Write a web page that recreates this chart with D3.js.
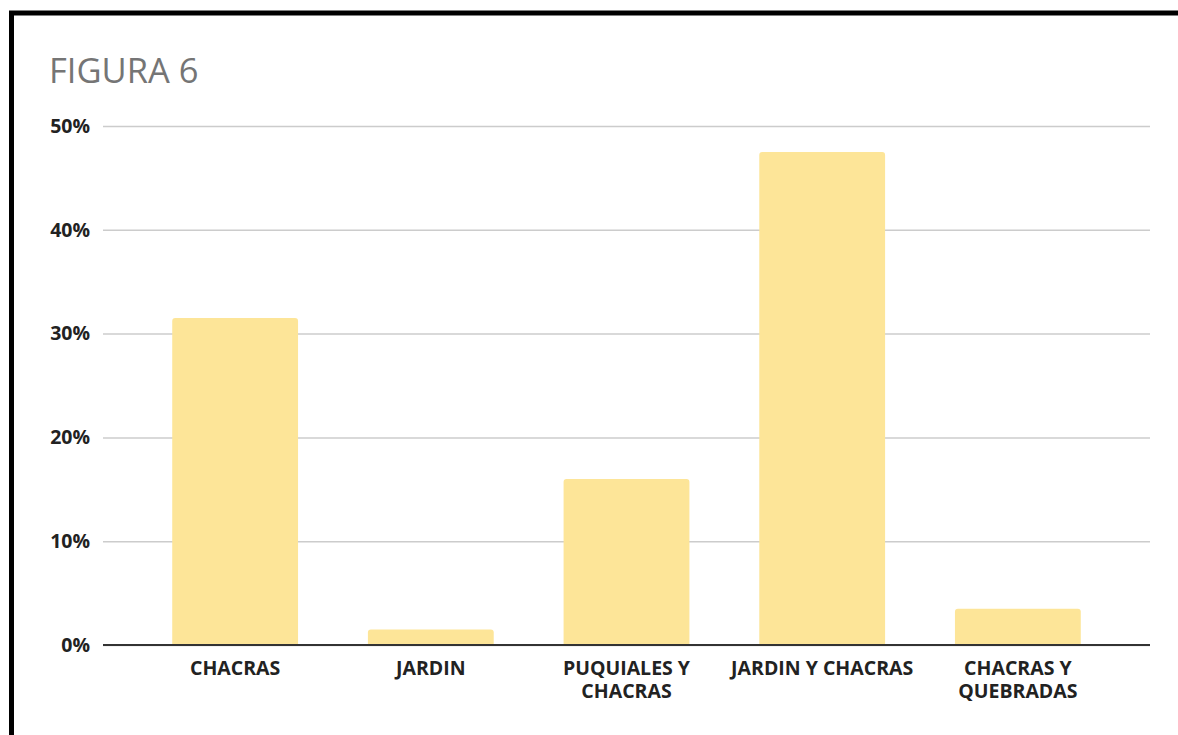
<!DOCTYPE html>
<html><head><meta charset="utf-8">
<script src="https://cdn.jsdelivr.net/npm/d3@7"></script>
<style>html,body{margin:0;padding:0;background:#fff;}svg{display:block;}</style>
</head><body>
<svg id="chart" width="1178" height="735"></svg>
<script>
const categories = ["CHACRAS", "JARDIN", "PUQUIALES Y\nCHACRAS", "JARDIN Y CHACRAS", "CHACRAS Y\nQUEBRADAS"];
const values = [31.5, 1.5, 16.0, 47.5, 3.5];
const yTicks = [0, 10, 20, 30, 40, 50];
const title = "FIGURA 6";

const svg = d3.select("#chart");
const font = "'Open Sans', sans-serif";

svg.append("rect").attr("x", 11.5).attr("y", 13).attr("width", 1200).attr("height", 800)
  .attr("fill", "#fff").attr("stroke", "#000").attr("stroke-width", 5);

svg.append("text").attr("x", 49).attr("y", 83).text(title)
  .attr("font-family", font).attr("font-size", 34.5).attr("fill", "#757575");

const y = d3.scaleLinear().domain([0, 50]).range([645, 126]);
const x = d3.scaleBand().domain(categories).range([137, 1116]).paddingInner(0.357).paddingOuter(0.18);
const gridX0 = 103, gridX1 = 1150;

const yAxis = svg.append("g").attr("transform", `translate(${gridX0},0)`)
  .call(d3.axisLeft(y).tickValues(yTicks).tickFormat(d => d + "%").tickSize(-(gridX1 - gridX0)).tickPadding(13));
yAxis.select(".domain").remove();
yAxis.selectAll(".tick line").attr("stroke", "#cccccc").attr("stroke-width", 1.5);
yAxis.selectAll(".tick text").attr("font-family", font).attr("font-size", 19.5).attr("font-weight", "bold").attr("fill", "#222");

const r = 3;
svg.append("g").selectAll("path").data(categories).join("path")
  .attr("fill", "#fde598")
  .attr("d", (c, i) => {
    const x0 = x(c), w = x.bandwidth(), yt = y(values[i]), yb = y(0);
    return `M${x0},${yb}V${yt + r}Q${x0},${yt} ${x0 + r},${yt}H${x0 + w - r}Q${x0 + w},${yt} ${x0 + w},${yt + r}V${yb}Z`;
  });

const xAxis = svg.append("g").attr("transform", `translate(0,${y(0)})`)
  .call(d3.axisBottom(x).tickSize(0).tickFormat(""));
xAxis.select(".domain").remove();
svg.append("line").attr("x1", gridX0).attr("x2", gridX1).attr("y1", y(0)).attr("y2", y(0))
  .attr("stroke", "#333").attr("stroke-width", 2);

xAxis.selectAll(".tick").each(function(c) {
  const g = d3.select(this);
  c.split("\n").forEach((line, k) => {
    g.append("text").attr("text-anchor", "middle").attr("x", 0).attr("y", 30 + k * 23)
      .attr("font-family", font).attr("font-size", 19.5).attr("font-weight", "bold").attr("fill", "#222")
      .text(line);
  });
});
</script>
</body></html>
